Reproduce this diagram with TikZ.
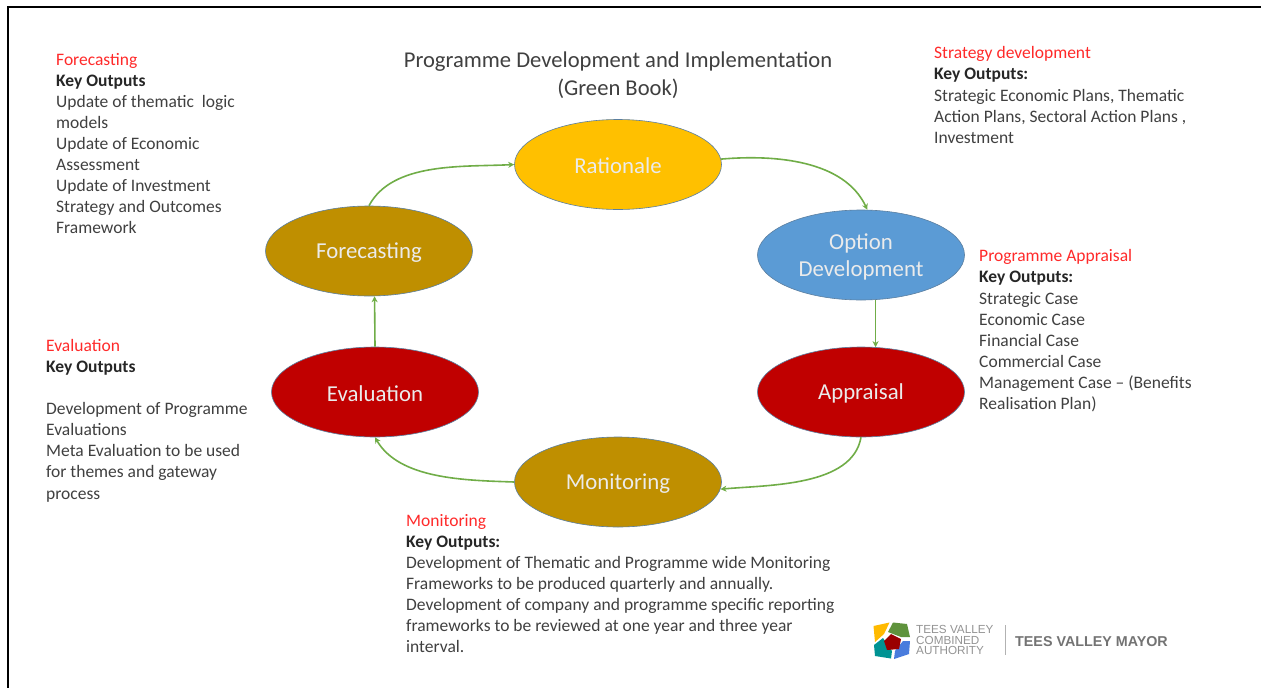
\documentclass[tikz,border=0pt]{standalone}
\usepackage{fontspec}
\setmainfont{Carlito}
\newfontfamily\logofont{Liberation Sans}
\usetikzlibrary{shapes.geometric,arrows.meta}
\definecolor{cyel}{HTML}{FFC000}
\definecolor{cblu}{HTML}{5B9BD5}
\definecolor{cred}{HTML}{C00000}
\definecolor{cgld}{HTML}{BF8F00}
\definecolor{cgrn}{HTML}{70AD47}
\definecolor{cedge}{HTML}{5B7FA0}
\definecolor{ctxt}{HTML}{404040}
\definecolor{chead}{HTML}{FF2A2A}
\tikzset{
 stage/.style={ellipse,draw=cedge,line width=.6pt,minimum width=207pt,minimum height=90pt,inner sep=0pt,text=white!92!black,font=\fontsize{22.8}{27}\selectfont,align=center},
 flow/.style={draw=cgrn,line width=1.6pt,-{Stealth[length=6pt,width=6pt]}},
 note/.style={anchor=north west,inner sep=0pt,align=left,text=ctxt,font=\fontsize{17.5}{21.1}\selectfont},
 ttl/.style={anchor=center,inner sep=0pt,align=center,text=ctxt,font=\fontsize{22.6}{27.5}\selectfont},
 logoa/.style={inner sep=0pt,anchor=west,text=black!42,align=left,font=\logofont\fontsize{11.7}{10.6}\selectfont},
 logob/.style={inner sep=0pt,anchor=west,text=black!55,font=\logofont\bfseries\fontsize{14.3}{15}\selectfont}
}
\newcommand{\hd}[1]{\textcolor{chead}{#1}}
\newcommand{\ko}[1]{\textcolor{black!85}{\textbf{#1}}}
\newcommand{\dn}{\rule{0pt}{19pt}}
\begin{document}
\begin{tikzpicture}[x=1pt,y=-1pt]
\useasboundingbox (0,0) rectangle (1261,688);
\fill[white] (0,0) rectangle (1261,688);
\draw[black,line width=2pt] (8,688) -- (8,7) -- (1261,7);

\node[stage,fill=cyel] (rat) at (618,164.5) {\dn Rationale};
\node[stage,fill=cblu] (opt) at (861,255) {\dn Option\\Development};
\node[stage,fill=cred] (app) at (861,392) {\dn Appraisal};
\node[stage,fill=cgld] (mon) at (618,482) {\dn Monitoring};
\node[stage,fill=cred] (eva) at (375,392) {\dn Evaluation};
\node[stage,fill=cgld] (fore) at (369,251) {\dn Forecasting};

\draw[flow] (rat.3) to[out=5,in=115,looseness=.9] (opt.82);
\draw[flow] (opt.-72) -- (app.72);
\draw[flow] (app.-90) to[out=-100,in=5,looseness=.85] (mon.-4);
\draw[flow] (mon.180) to[out=178,in=-60,looseness=.85] (eva.-90);
\draw[flow] (eva.90) -- (fore.-83);
\draw[flow] (fore.90) to[out=62,in=183,looseness=.85] (rat.180);

\node[ttl] (title) at (618,75) {Programme Development and Implementation\\(Green Book)};

\node[note] (n1) at (56,52.7) {\hd{Forecasting}\\\ko{Key Outputs}\\Update of thematic\ \ logic\\models\\Update of Economic\\Assessment\\Update of Investment\\Strategy and Outcomes\\Framework};
\node[note] (n2) at (934,46.5) {\hd{Strategy development}\\\ko{Key Outputs:}\\Strategic Economic Plans, Thematic\\Action Plans, Sectoral Action Plans ,\\Investment};
\node[note] (n3) at (979,249.5) {\hd{Programme Appraisal}\\\ko{Key Outputs:}\\Strategic Case\\Economic Case\\Financial Case\\Commercial Case\\Management Case -- (Benefits\\Realisation Plan)};
\node[note] (n4) at (46,339) {\hd{Evaluation}\\\ko{Key Outputs}\\[21.1pt]Development of Programme\\Evaluations\\Meta Evaluation to be used\\for themes and gateway\\process};
\node[note] (n5) at (406,514) {\hd{Monitoring}\\\ko{Key Outputs:}\\Development of Thematic and Programme wide Monitoring\\Frameworks to be produced quarterly and annually.\\Development of company and programme specific reporting\\frameworks to be reviewed at one year and three year\\interval.};

% logo
\fill[cyel!90!orange] (873.5,626) -- (889.5,622.5) -- (884,634) -- (875,642) -- cycle;
\fill[cgrn!85!black] (893,622.5) -- (907,624) -- (910,637) -- (901,637) -- (888,632) -- cycle;
\fill[teal!85!cyan] (874,645) -- (883,638) -- (892,651) -- (891,658.5) -- (875,656) -- cycle;
\fill[cblu!80!blue] (910,641) -- (909,654) -- (894,659) -- (895,651) -- (903,641) -- cycle;
\fill[cred!80!black] (891,634) -- (901,639) -- (899,649) -- (887,650) -- (884,641) -- cycle;
\node[logoa] (l1) at (916,640) {TEES VALLEY\\COMBINED\\AUTHORITY};
\draw[black!30,line width=1pt] (1005,625) -- (1005,655);
\node[logob] (l2) at (1015,641.5) {TEES VALLEY MAYOR};
\end{tikzpicture}
\end{document}
